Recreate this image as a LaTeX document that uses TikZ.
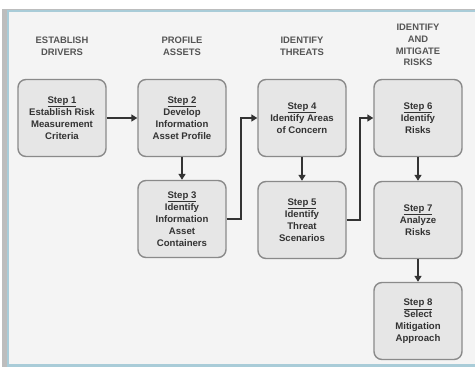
\documentclass[tikz,border=0pt]{standalone}
\usepackage{fontspec}
\setmainfont{Liberation Sans}
\usetikzlibrary{arrows.meta}
\definecolor{pagegray}{HTML}{F4F4F4}
\definecolor{boxfill}{HTML}{E6E6E6}
\definecolor{boxline}{HTML}{8A8A8A}
\definecolor{framegray}{HTML}{BDBDBD}
\definecolor{frameblue}{HTML}{A9CCD8}
\definecolor{txtdark}{HTML}{333333}
\definecolor{hdrgray}{HTML}{555555}
\tikzset{
  box/.style={draw=boxline,line width=1.4pt,fill=boxfill,rounded corners=8pt,
    minimum width=88pt,minimum height=77pt,inner sep=1pt,align=center,text=txtdark,
    font=\fontsize{9.6}{12}\selectfont\bfseries},
  hdr/.style={align=center,text=hdrgray,font=\fontsize{9.4}{11.8}\selectfont\bfseries},
  arr/.style={line width=1.6pt,draw=txtdark,-{Triangle[length=6pt,width=7pt]}}
}
\newcommand{\steplbl}[1]{\underline{Step #1}}
\begin{document}
\begin{tikzpicture}[x=1pt,y=-1pt]
\useasboundingbox (0,0) rectangle (475,367);
% frame
\fill[white] (0,0) rectangle (475,367);
\fill[framegray] (2,9) rectangle (475,367);
\fill[frameblue] (7,10) rectangle (475,367);
\fill[pagegray] (9,12) rectangle (475,364);

% column headings
\node[hdr] (h1) at (62,46) {ESTABLISH\\DRIVERS};
\node[hdr] (h2) at (182,46) {PROFILE\\ASSETS};
\node[hdr] (h3) at (302,46) {IDENTIFY\\THREATS};
\node[hdr] (h4) at (418,45) {IDENTIFY\\AND\\MITIGATE\\RISKS};

% steps
\node[box] (s1) at (62,118) {\steplbl{1}\\Establish Risk\\Measurement\\Criteria};
\node[box] (s2) at (182,118) {\steplbl{2}\\Develop\\Information\\Asset Profile};
\node[box] (s3) at (182,219) {\steplbl{3}\\Identify\\Information\\Asset\\Containers};
\node[box] (s4) at (302,118) {\steplbl{4}\\Identify Areas\\of Concern};
\node[box] (s5) at (302,220) {\steplbl{5}\\Identify\\Threat\\Scenarios};
\node[box] (s6) at (418,118) {\steplbl{6}\\Identify\\Risks};
\node[box] (s7) at (418,220) {\steplbl{7}\\Analyze\\Risks};
\node[box] (s8) at (418,321) {\steplbl{8}\\Select\\Mitigation\\Approach};

% flow
\draw[arr] (s1) -- (s2);
\draw[arr] (s2) -- (s3);
\draw[arr] (s3.east) -- ++(14,0) |- (s4.west);
\draw[arr] (s4) -- (s5);
\draw[arr] (s5.east) -- ++(13,0) |- (s6.west);
\draw[arr] (s6) -- (s7);
\draw[arr] (s7) -- (s8);
\end{tikzpicture}
\end{document}
